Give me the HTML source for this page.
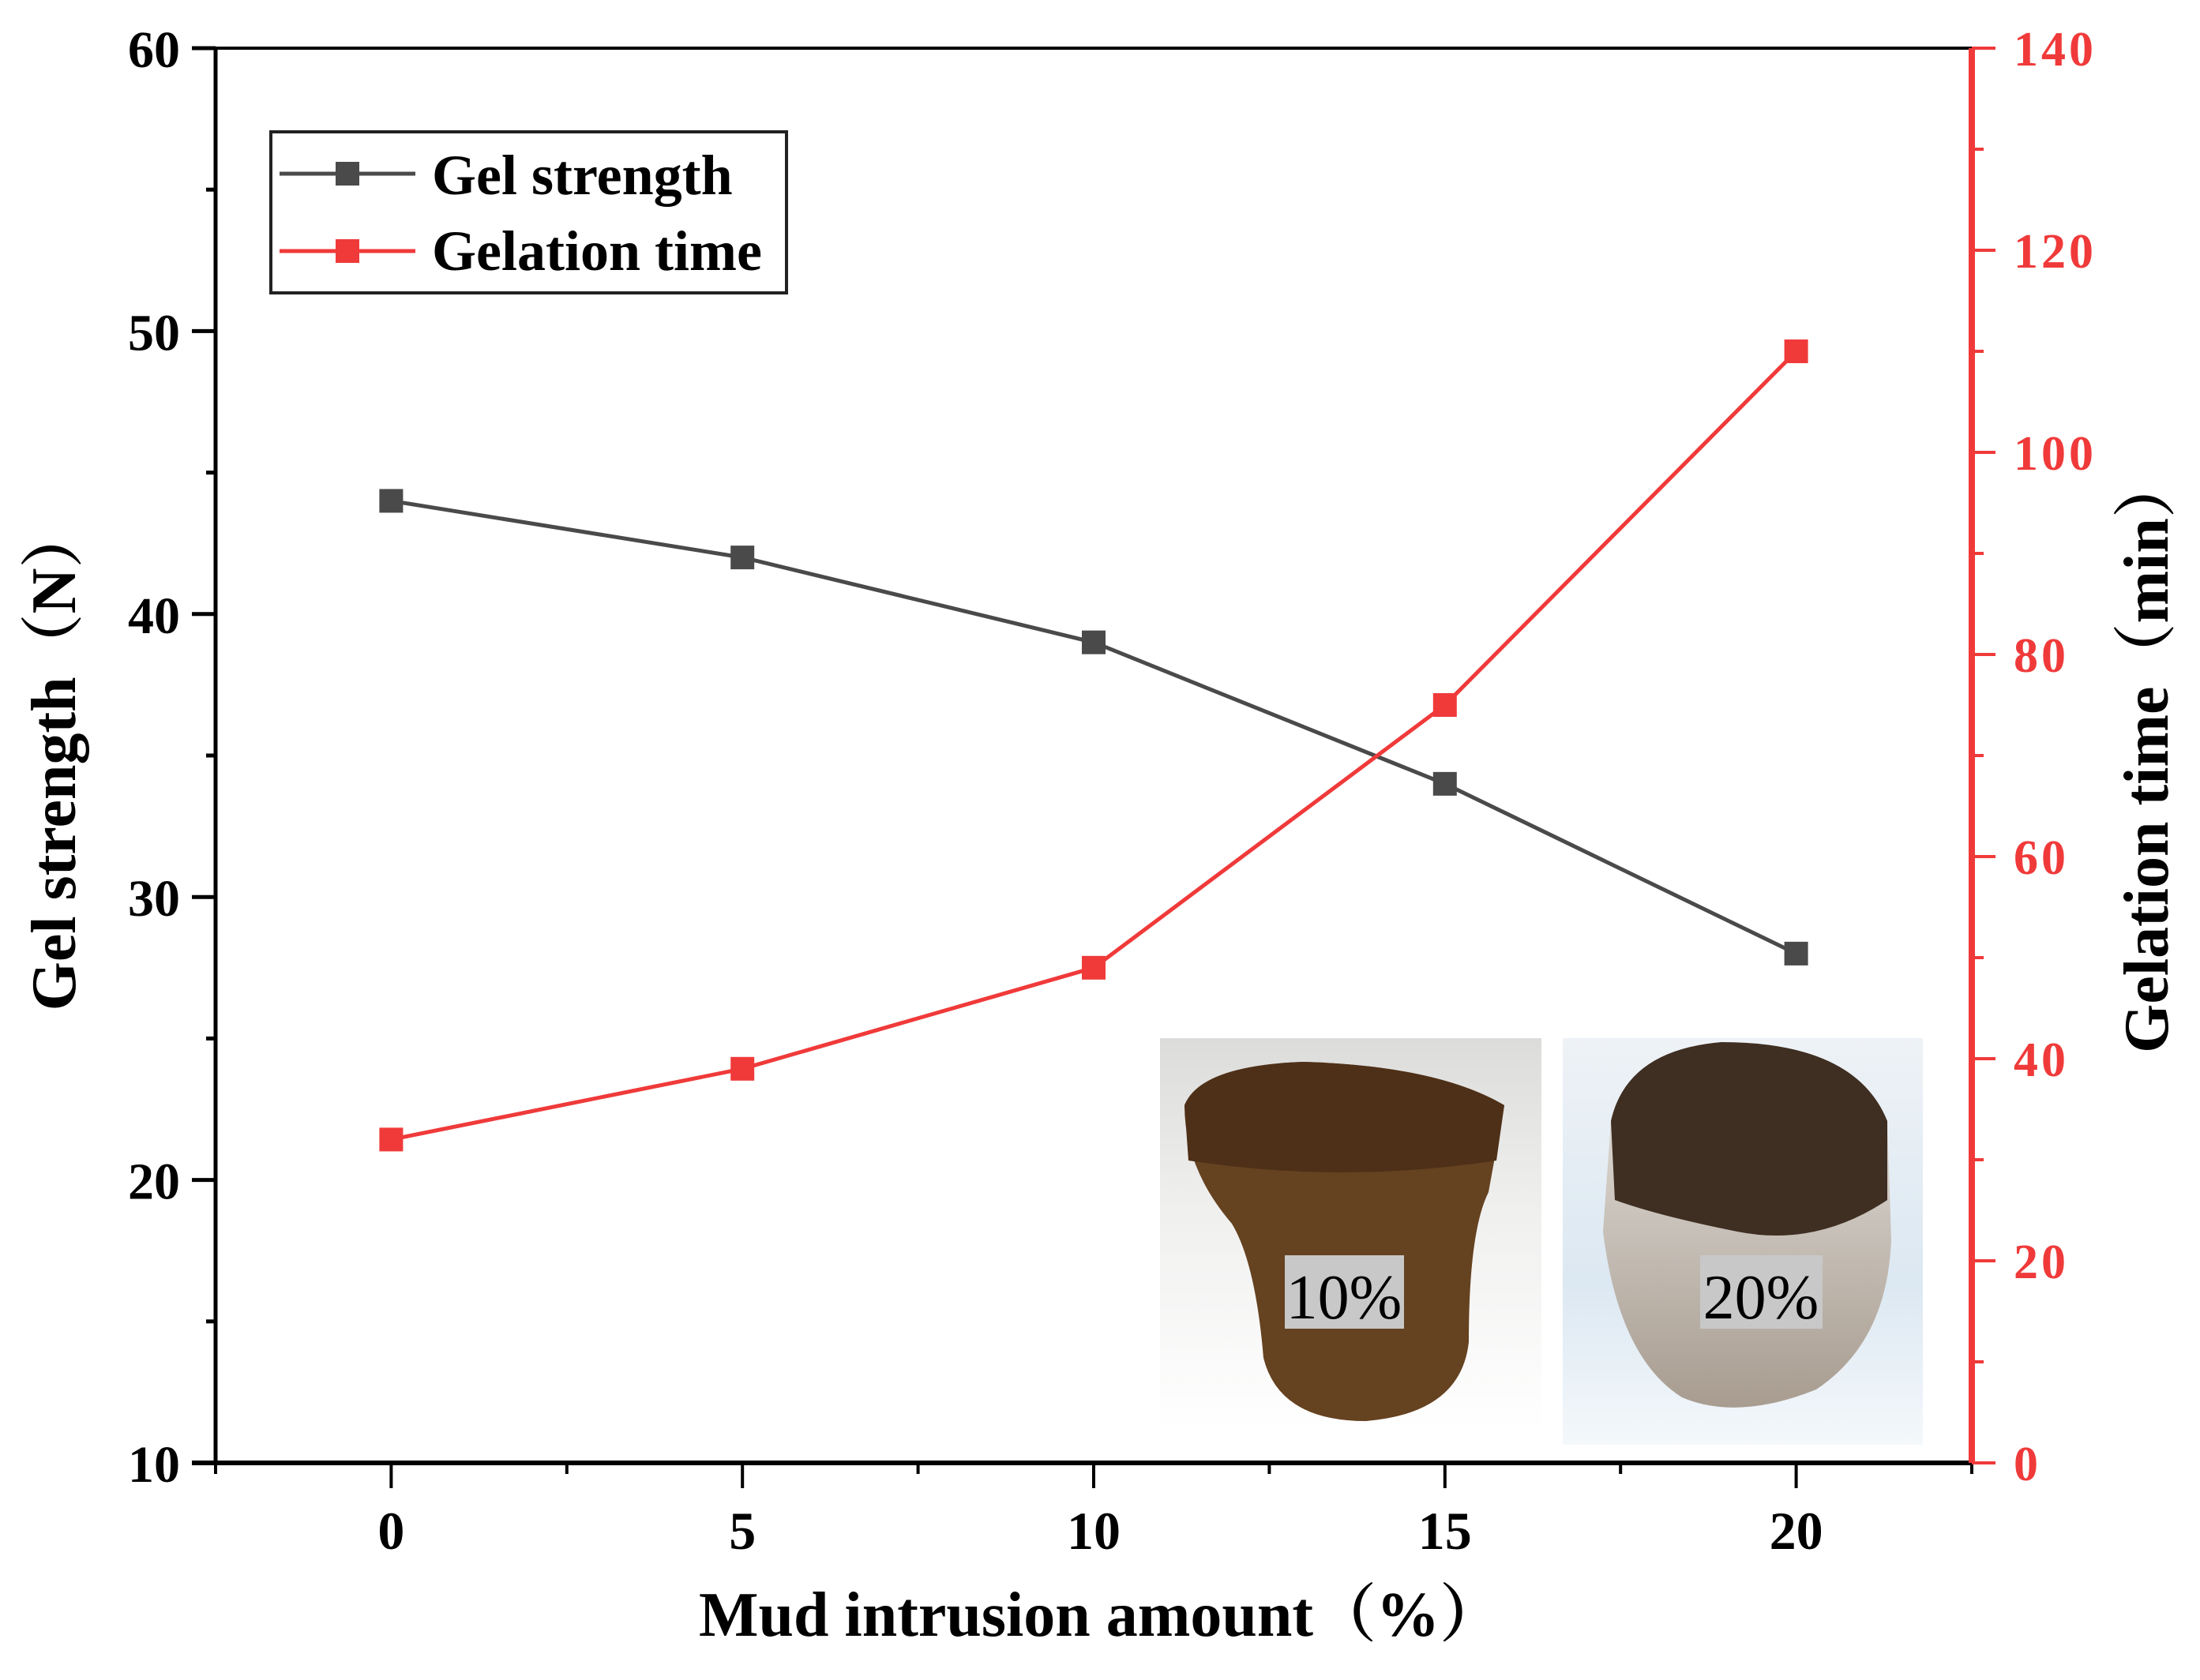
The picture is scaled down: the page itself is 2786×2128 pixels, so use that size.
<!DOCTYPE html>
<html><head><meta charset="utf-8"><style>
html,body{margin:0;padding:0;background:#fff;}
svg{display:block;font-family:"Liberation Serif","Noto Serif CJK SC",serif;}
</style></head><body>
<svg id="chart" width="2786" height="2128" viewBox="0 0 2786 2128" xmlns="http://www.w3.org/2000/svg">
<defs>
<linearGradient id="bg1" x1="0" y1="0" x2="0" y2="1"><stop offset="0" stop-color="#dcdcda"/><stop offset="0.45" stop-color="#f0f0ef"/><stop offset="1" stop-color="#ffffff"/></linearGradient>
<linearGradient id="bg2" x1="0" y1="0" x2="0" y2="1"><stop offset="0" stop-color="#eef2f6"/><stop offset="0.6" stop-color="#dce8f2"/><stop offset="1" stop-color="#f4f8fb"/></linearGradient>
<linearGradient id="g3" x1="0" y1="0" x2="0" y2="1"><stop offset="0" stop-color="#e8e6e2"/><stop offset="1" stop-color="#a89c90"/></linearGradient>
</defs>
<g id="inset">
  <rect x="1469" y="1315" width="483" height="496" fill="url(#bg1)"/>
  <path d="M1500 1400 Q1520 1350 1650 1345 Q1820 1350 1905 1400 L1885 1510 Q1860 1560 1860 1700 Q1850 1790 1730 1800 Q1620 1800 1600 1720 Q1590 1600 1560 1550 Q1500 1480 1500 1400 Z" fill="#654220"/>
  <path d="M1500 1400 Q1520 1350 1650 1345 Q1820 1350 1905 1400 L1895 1470 Q1700 1500 1505 1470 Z" fill="#4e3018"/>
  <rect x="1979" y="1315" width="456" height="515" fill="url(#bg2)"/>
  <path d="M2040 1420 Q2060 1330 2180 1320 Q2350 1320 2390 1420 L2395 1570 Q2390 1700 2300 1760 Q2200 1800 2130 1770 Q2050 1720 2030 1560 Z" fill="url(#g3)"/>
  <path d="M2040 1420 Q2060 1330 2180 1320 Q2350 1320 2390 1420 L2390 1520 Q2300 1580 2200 1560 Q2100 1540 2045 1520 Z" fill="#3f2e22"/>
  <rect x="1627" y="1590" width="151" height="93" fill="#c8c8c8"/>
  <text x="1702" y="1670" font-size="80" text-anchor="middle" fill="#000">10%</text>
  <rect x="2153" y="1590" width="155" height="93" fill="#c8c8c8"/>
  <text x="2230" y="1670" font-size="80" text-anchor="middle" fill="#000">20%</text>
</g>
<g id="axes"></g>
<g id="series"></g>
<g id="legend">
  <rect x="343" y="167" width="653" height="204" fill="none" stroke="#222" stroke-width="4"/>
  <line x1="354" y1="220" x2="526" y2="220" stroke="#4a4a4a" stroke-width="5"/>
  <rect x="425" y="205" width="30" height="30" fill="#4a4a4a"/>
  <text x="547" y="246" font-size="72" font-weight="bold">Gel strength</text>
  <line x1="354" y1="318" x2="526" y2="318" stroke="#f03a3a" stroke-width="5"/>
  <rect x="425" y="303" width="30" height="30" fill="#f03a3a"/>
  <text x="547" y="342" font-size="72" font-weight="bold">Gelation time</text>
</g>
<text x="1394" y="2072" font-size="80" font-weight="bold" text-anchor="middle">Mud intrusion amount（%）</text>
<text transform="translate(95,960) rotate(-90)" font-size="80" font-weight="bold" text-anchor="middle">Gel strength（N）</text>
<text transform="translate(2745,955) rotate(-90)" font-size="80" font-weight="bold" text-anchor="middle">Gelation time（min）</text>
</svg>
<script>
const categories = [0, 5, 10, 15, 20];
const gelStrength = [44, 42, 39, 34, 28];
const gelationTime = [32, 39, 49, 75, 110];
const xTicks = [0, 5, 10, 15, 20];
const leftTicks = [10, 20, 30, 40, 50, 60];
const rightTicks = [0, 20, 40, 60, 80, 100, 120, 140];

const NS = 'http://www.w3.org/2000/svg';
const L = 273, R = 2497, T = 61, B = 1853;
const xs = v => L + (v + 2.5) / 25 * (R - L);
const yl = v => B - (v - 10) / 50 * (B - T);
const yr = v => B - v / 140 * (B - T);
function mk(tag, attrs, parent) {
  const e = document.createElementNS(NS, tag);
  for (const k in attrs) e.setAttribute(k, attrs[k]);
  parent.appendChild(e);
  return e;
}
const axes = document.getElementById('axes');
const series = document.getElementById('series');

let e = mk('line', {x1: L, y1: T, x2: R, y2: T, stroke: '#000', 'stroke-width': 4}, axes);


e = mk('line', {x1: L, y1: T - 2, x2: L, y2: B + 3, stroke: '#000', 'stroke-width': 5}, axes);


e = mk('line', {x1: L - 30, y1: B, x2: R, y2: B, stroke: '#000', 'stroke-width': 6}, axes);


e = mk('line', {x1: R, y1: T, x2: R, y2: B, stroke: '#f03a3a', 'stroke-width': 8}, axes);



for (let v = -2.5; v <= 22.5; v += 2.5) {
  const major = xTicks.includes(v);
  e = mk('line', {x1: xs(v), y1: B, x2: xs(v), y2: B + (major ? 32 : 14), stroke: '#000', 'stroke-width': 4}, axes);
  
  
}
xTicks.forEach(v => {
  const t = mk('text', {x: xs(v), y: 1962, 'font-size': 68, 'font-weight': 'bold', 'text-anchor': 'middle'}, axes);
  t.textContent = v;
  
  
});
for (let v = 10; v <= 60; v += 5) {
  const major = leftTicks.includes(v);
  e = mk('line', {x1: L - (major ? 30 : 12), y1: yl(v), x2: L, y2: yl(v), stroke: '#000', 'stroke-width': 5}, axes);
  
  
}
leftTicks.forEach(v => {
  const t = mk('text', {x: 228, y: yl(v) + 24, 'font-size': 66, 'font-weight': 'bold', 'text-anchor': 'end'}, axes);
  t.textContent = v;
  
  
});
for (let v = 0; v <= 140; v += 10) {
  const major = rightTicks.includes(v);
  e = mk('line', {x1: R, y1: yr(v), x2: R + (major ? 30 : 15), y2: yr(v), stroke: '#f03a3a', 'stroke-width': 4}, axes);
  
  
}
rightTicks.forEach(v => {
  const t = mk('text', {x: 2550, y: yr(v) + 22, 'font-size': 62, 'font-weight': 'bold', fill: '#f03a3a', 'letter-spacing': 4}, axes);
  t.textContent = v;
  
  
});

function drawSeries(vals, yf, color, name) {
  const pts = categories.map((c, i) => xs(c) + ',' + yf(vals[i])).join(' ');
  const pl = mk('polyline', {points: pts, fill: 'none', stroke: color, 'stroke-width': 5}, series);
  
  
  categories.forEach((c, i) => {
    const r = mk('rect', {x: xs(c) - 15, y: yf(vals[i]) - 15, width: 30, height: 30, fill: color}, series);
    
    
  });
}
drawSeries(gelStrength, yl, '#4a4a4a', 'gel-strength');
drawSeries(gelationTime, yr, '#f03a3a', 'gelation-time');
</script>
</body></html>
